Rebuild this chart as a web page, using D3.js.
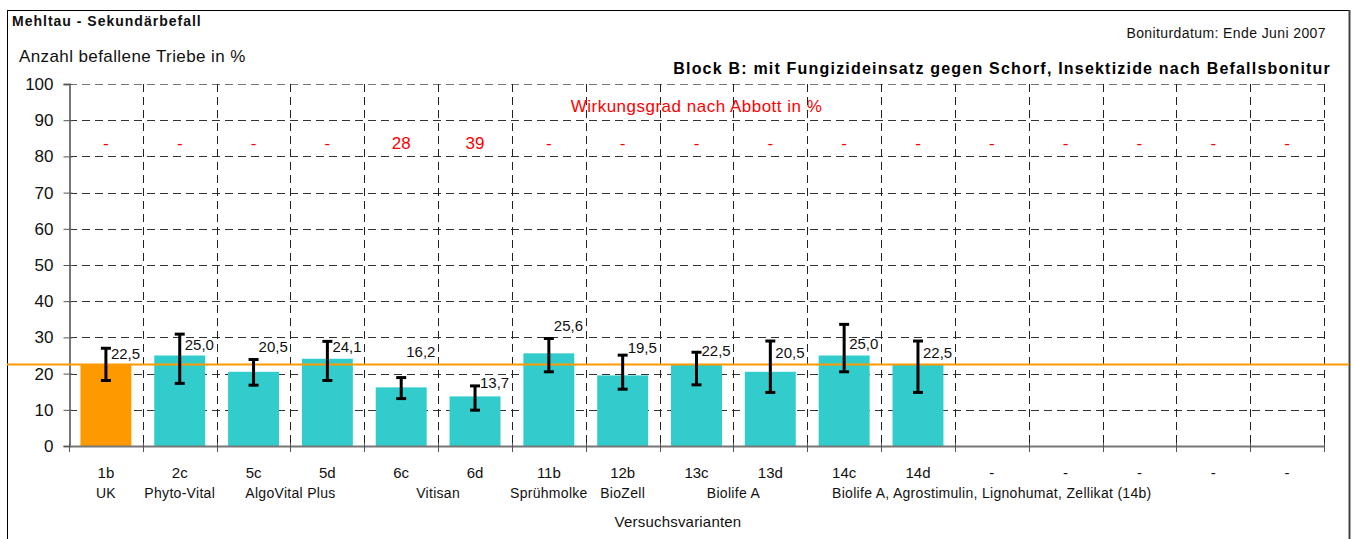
<!DOCTYPE html>
<html>
<head>
<meta charset="utf-8">
<script src="https://cdn.jsdelivr.net/npm/d3@7/dist/d3.min.js"></script>
<style>
    body { margin: 0; background: #fff; }
    svg { font-family: "Liberation Sans", Arial, sans-serif; }
</style>
</head>
<body>
<svg id="chart" width="1353" height="539"></svg>
<script>
var codes = ['1b', '2c', '5c', '5d', '6c', '6d', '11b', '12b', '13c', '13d', '14c', '14d', '-', '-', '-', '-', '-'];
var values = [22.5, 25.0, 20.5, 24.1, 16.2, 13.7, 25.6, 19.5, 22.5, 20.5, 25.0, 22.5];
var errLow = [18.1, 17.3, 16.8, 18.1, 13.1, 9.9, 20.5, 15.7, 16.9, 14.8, 20.5, 14.8];
var errHigh = [27.0, 30.9, 23.9, 28.9, 18.9, 16.6, 29.7, 25.1, 25.9, 29.0, 33.6, 29.0];
var labelAt = [25.4, 27.9, 27.3, 27.3, 26.0, 17.4, 33.1, 27.0, 26.2, 25.7, 28.2, 25.7];
var abbott = ['-', '-', '-', '-', '28', '39', '-', '-', '-', '-', '-', '-', '-', '-', '-', '-', '-'];
var groups = [
    ['UK', 0, 0],
    ['Phyto-Vital', 1, 1],
    ['AlgoVital Plus', 2, 3],
    ['Vitisan', 4, 5],
    ['Sprühmolke', 6, 6],
    ['BioZell', 7, 7],
    ['Biolife A', 8, 9],
    ['Biolife A, Agrostimulin, Lignohumat, Zellikat (14b)', 10, 14]
];
var controlValue = 22.5;
var yTicks = [0, 10, 20, 30, 40, 50, 60, 70, 80, 90, 100];

var svg = d3.select('#chart');
var pLeft = 69, pRight = 1324, pTop = 84, pBottom = 446;

var x = d3.scaleBand().domain(d3.range(codes.length)).range([pLeft, pRight]);
var y = d3.scaleLinear().domain([0, 100]).range([pBottom, pTop]);
var bw = x.bandwidth() * 0.69;
function cx(i) { return x(i) + x.bandwidth() / 2; }
function gx(i) { return Math.round(pLeft + i * x.step()) + 0.5; }

// frame
svg.append('rect')
    .attr('x', 7.5).attr('y', 10.5)
    .attr('width', 1342).attr('height', 540)
    .attr('fill', 'none').attr('stroke', '#000').attr('stroke-width', 1);
svg.append('line')
    .attr('x1', 1349.5).attr('x2', 1349.5).attr('y1', 10).attr('y2', 539)
    .attr('stroke', '#444').attr('stroke-width', 2);

// grid
svg.append('g').selectAll('line').data(yTicks.slice(1)).join('line')
    .attr('x1', pLeft).attr('x2', pRight)
    .attr('y1', function(d) { return Math.round(y(d)) + 0.5; })
    .attr('y2', function(d) { return Math.round(y(d)) + 0.5; })
    .attr('stroke', function(d) { return d == 100 ? '#777' : '#333'; })
    .attr('stroke-dasharray', '8,5');

svg.append('g').selectAll('line').data(d3.range(1, codes.length + 1)).join('line')
    .attr('x1', gx).attr('x2', gx)
    .attr('y1', pTop).attr('y2', pBottom)
    .attr('stroke', '#222')
    .attr('stroke-dasharray', '8,5');

// bars
svg.append('g').selectAll('rect').data(values).join('rect')
    .attr('x', function(d, i) { return cx(i) - bw / 2; })
    .attr('y', function(d) { return y(d); })
    .attr('width', bw)
    .attr('height', function(d) { return pBottom - y(d); })
    .attr('fill', function(d, i) { return i == 0 ? '#FF9900' : '#33CCCC'; });

// axes
var yAxis = d3.axisLeft(y).tickValues(yTicks).tickSize(6).tickPadding(10);
var gy = svg.append('g').attr('transform', 'translate(' + (pLeft + 0.5) + ',0)').call(yAxis);
gy.select('.domain').attr('stroke', '#777').attr('stroke-width', 2);
gy.selectAll('.tick line').attr('stroke', '#555').attr('x2', -6).attr('x1', 3);
gy.selectAll('.tick text').attr('font-size', 17).attr('fill', '#111').attr('font-family', '"Liberation Sans", Arial, sans-serif');

svg.append('line')
    .attr('x1', pLeft).attr('x2', pRight).attr('y1', pBottom + 0.5).attr('y2', pBottom + 0.5)
    .attr('stroke', '#777').attr('stroke-width', 2);
svg.append('g').selectAll('line').data(d3.range(0, codes.length + 1)).join('line')
    .attr('x1', gx).attr('x2', gx)
    .attr('y1', pBottom - 3).attr('y2', pBottom + 6)
    .attr('stroke', '#555');

// control line
svg.append('line')
    .attr('x1', 7).attr('x2', 1349)
    .attr('y1', y(controlValue)).attr('y2', y(controlValue))
    .attr('stroke', '#FF9900').attr('stroke-width', 2);

// error bars
var eb = svg.append('g').attr('stroke', '#000').attr('stroke-width', 3);
values.forEach(function(v, i) {
    var c = cx(i);
    eb.append('line').attr('x1', c).attr('x2', c).attr('y1', y(errHigh[i])).attr('y2', y(errLow[i]));
    eb.append('line').attr('x1', c - 5).attr('x2', c + 5).attr('y1', y(errHigh[i])).attr('y2', y(errHigh[i]));
    eb.append('line').attr('x1', c - 5).attr('x2', c + 5).attr('y1', y(errLow[i])).attr('y2', y(errLow[i]));
});

// value labels
svg.append('g').selectAll('text').data(values).join('text')
    .attr('x', function(d, i) { return cx(i) + 5; })
    .attr('y', function(d, i) { return y(labelAt[i]) + 5; })
    .attr('font-size', 15).attr('fill', '#111')
    .text(function(d) { return d.toFixed(1).replace('.', ','); });

// Abbott
svg.append('text')
    .attr('x', (pLeft + pRight) / 2).attr('y', 112)
    .attr('text-anchor', 'middle').attr('font-size', 17).attr('letter-spacing', 0.5).attr('fill', '#FF0000')
    .text('Wirkungsgrad nach Abbott in %');
svg.append('g').selectAll('text').data(abbott).join('text')
    .attr('x', function(d, i) { return cx(i); })
    .attr('y', 149)
    .attr('text-anchor', 'middle').attr('font-size', 17).attr('fill', '#FF0000')
    .text(function(d) { return d; });

// category labels
svg.append('g').selectAll('text').data(codes).join('text')
    .attr('x', function(d, i) { return cx(i); })
    .attr('y', 478)
    .attr('text-anchor', 'middle').attr('font-size', 15).attr('fill', '#111')
    .text(function(d) { return d; });
svg.append('g').selectAll('text').data(groups).join('text')
    .attr('x', function(g) { return (cx(g[1]) + cx(g[2])) / 2; })
    .attr('y', 498)
    .attr('text-anchor', 'middle').attr('font-size', 14).attr('letter-spacing', 0.3).attr('fill', '#111')
    .text(function(g) { return g[0]; });

// titles
svg.append('text').attr('x', 12).attr('y', 26)
    .attr('font-size', 14).attr('font-weight', 'bold').attr('letter-spacing', 1.0).attr('fill', '#111')
    .text('Mehltau - Sekundärbefall');
svg.append('text').attr('x', 19).attr('y', 62)
    .attr('font-size', 17).attr('letter-spacing', 0.4).attr('fill', '#111')
    .text('Anzahl befallene Triebe in %');
svg.append('text').attr('x', 1326).attr('y', 38)
    .attr('text-anchor', 'end').attr('font-size', 14).attr('letter-spacing', 0.4).attr('fill', '#111')
    .text('Boniturdatum: Ende Juni 2007');
svg.append('text').attr('x', 1331).attr('y', 74)
    .attr('text-anchor', 'end').attr('font-size', 16).attr('font-weight', 'bold').attr('letter-spacing', 1.2).attr('fill', '#000')
    .text('Block B: mit Fungizideinsatz gegen Schorf, Insektizide nach Befallsbonitur');
svg.append('text').attr('x', 678).attr('y', 527)
    .attr('text-anchor', 'middle').attr('font-size', 15).attr('letter-spacing', 0.2).attr('fill', '#111')
    .text('Versuchsvarianten');
</script>
</body>
</html>
